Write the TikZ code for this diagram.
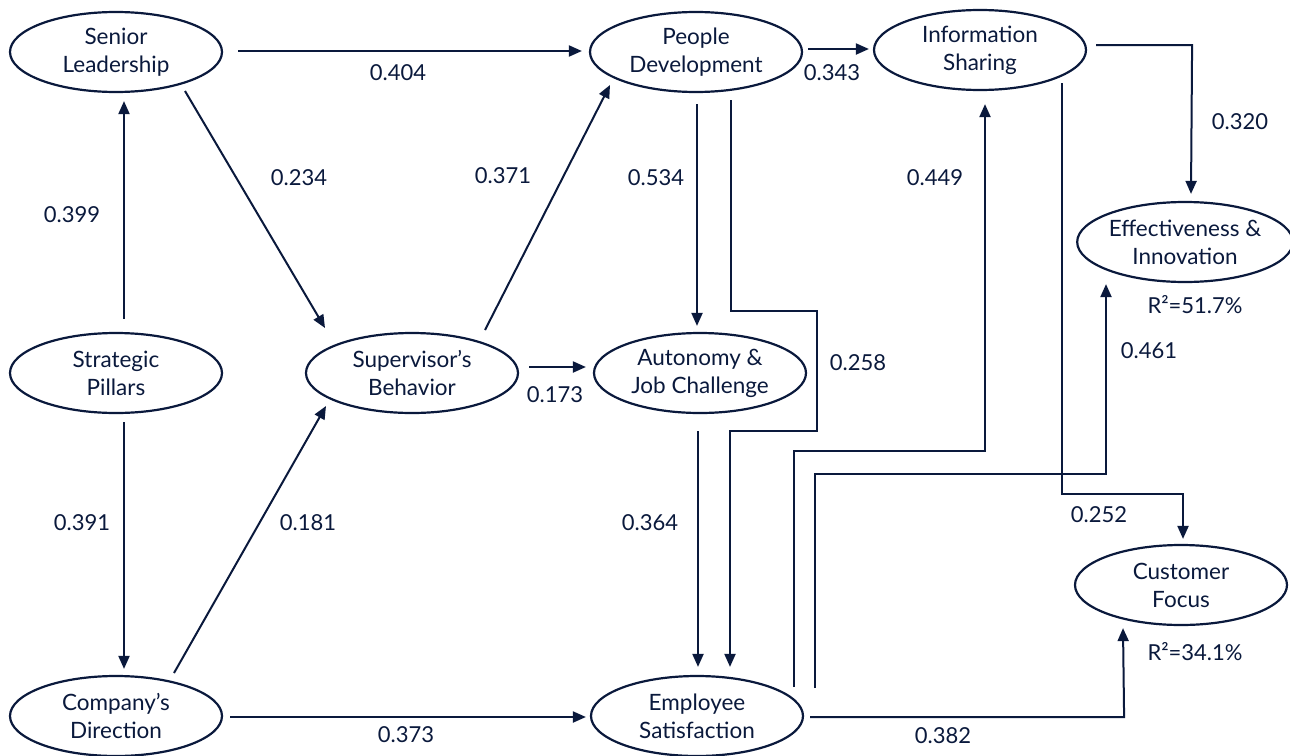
\documentclass[tikz,border=0pt]{standalone}
\usepackage{fontspec}
\setmainfont{Lato}
\usetikzlibrary{shapes.geometric,arrows.meta,calc}
\definecolor{navy}{RGB}{10,25,60}
\tikzset{
  latent/.style={ellipse, draw=navy, line width=2.2pt, minimum width=212pt, minimum height=80pt,
    inner sep=0pt, align=center, text=navy, font=\fontsize{22.5}{28}\selectfont},
  arr/.style={draw=navy, line width=2pt, -{Triangle[length=13pt,width=11pt]}},
  coef/.style={text=navy, font=\fontsize{22}{26}\selectfont, inner sep=0pt}
}
\begin{document}
\begin{tikzpicture}[x=1pt,y=-1pt]
\useasboundingbox (0,0) rectangle (1290,755);
% nodes
\node[latent] (SL) at (116,52) {Senior\\Leadership};
\node[latent] (PD) at (696,52) {People\\Development};
\node[latent] (IS) at (980,50) {Information\\Sharing};
\node[latent] (EI) at (1185,242) {Effectiveness \&\\Innovation};
\node[latent] (SP) at (116,373) {Strategic\\Pillars};
\node[latent] (SB) at (412,373) {Supervisor’s\\Behavior};
\node[latent] (AJ) at (700,373) {Autonomy \&\\Job Challenge};
\node[latent] (CD) at (116,716) {Company’s\\Direction};
\node[latent] (ES) at (697,716) {Employee\\Satisfaction};
\node[latent] (CF) at (1181,585) {Customer\\Focus};
% connectors
\draw[arr] ([shift={(8,-13)}]SP.north) -- ([shift={(8,8)}]SL.south);
\draw[arr] ([shift={(8,8)}]SP.south) -- ([shift={(8,-6)}]CD.north);
\draw[arr] ([shift={(15,-1)}]SL.east) -- ([shift={(-7,-1)}]PD.west);
\draw[arr] ([shift={(69,39)}]SL.center) -- ([shift={(-87,-45)}]SB.center);
\draw[arr] ([shift={(73,-43)}]SB.center) -- ([shift={(-86,33)}]PD.center);
\draw[arr] ([shift={(10,-6)}]SB.east) -- ([shift={(-7,-6)}]AJ.west);
\draw[arr] ([shift={(58,-43)}]CD.center) -- ([shift={(-86,33)}]SB.center);
\draw[arr] ([shift={(7,1)}]CD.east) -- ([shift={(-4,1)}]ES.west);
\draw[arr] ([shift={(1,11)}]PD.south) -- ([shift={(-3,-6)}]AJ.north);
\draw[arr] ([shift={(-2,17)}]AJ.south) -- ([shift={(1,-8)}]ES.north);
\draw[arr] ([shift={(35,7)}]PD.south) -- ++(0,211) -- ++(86,0) -- ++(0,120) -- ++(-87,0) -- ([shift={(33,-8)}]ES.north);
\draw[arr] ([shift={(97,-29)}]ES.center) -- ++(0,-236) -- ++(191,0) -- ([shift={(5,13)}]IS.south);
\draw[arr] ([shift={(118,-28)}]ES.center) -- ++(0,-214) -- ++(291,0) -- ([shift={(-79,1)}]EI.south);
\draw[arr] ([shift={(9,-5)}]IS.east) -- ++(96,0) -- ([shift={(6,-7)}]EI.north);
\draw[arr] ([shift={(82,33)}]IS.center) -- ++(0,411) -- ++(121,0) -- ([shift={(2,-5)}]CF.north);
\draw[arr] ([shift={(6,1)}]ES.east) -- ++(314,0) -- ([shift={(-58,2)}]CF.south);
\draw[arr] ([shift={(5,-3)}]PD.east) -- ([shift={(-4,-1)}]IS.west);
% coefficients
\node[coef] (c1) at (72,215) {0.399};
\node[coef] (c2) at (82,523) {0.391};
\node[coef] (c3) at (398,73) {0.404};
\node[coef] (c4) at (299,178) {0.234};
\node[coef] (c5) at (503,176) {0.371};
\node[coef] (c6) at (555,395) {0.173};
\node[coef] (c7) at (308,523) {0.181};
\node[coef] (c8) at (406,735) {0.373};
\node[coef] (c9) at (656,178) {0.534};
\node[coef] (c10) at (650,523) {0.364};
\node[coef] (c11) at (858,363) {0.258};
\node[coef] (c12) at (935,178) {0.449};
\node[coef] (c13) at (832,73) {0.343};
\node[coef] (c14) at (1240,122) {0.320};
\node[coef] (c15) at (1149,351) {0.461};
\node[coef] (c16) at (1099,515) {0.252};
\node[coef] (c17) at (943,736) {0.382};
\node[coef] (r1) at (1195,305) {R²=51.7\%};
\node[coef] (r2) at (1195,652) {R²=34.1\%};
\end{tikzpicture}
\end{document}
